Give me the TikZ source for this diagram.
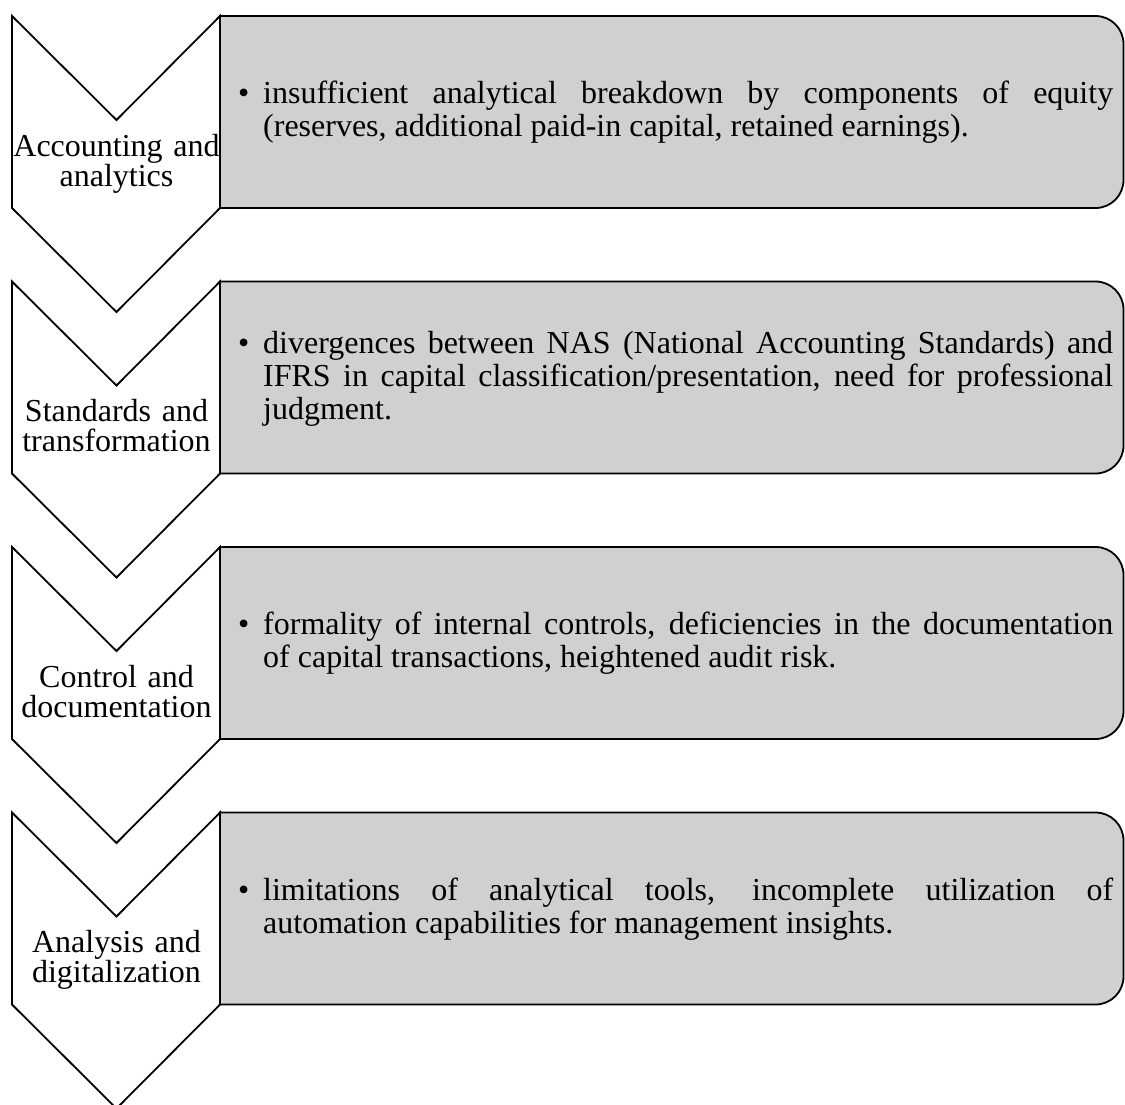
\documentclass[tikz,border=0pt]{standalone}
\usepackage{fontspec}
\setmainfont{Liberation Serif}
\definecolor{boxgray}{RGB}{208,208,208}
\newcommand\drawstage[1]{%
  \draw[chev] (12,#1) -- (116.5,#1+104) -- (220,#1) -- (220,#1+192)
     -- (116.5,#1+296) -- (12,#1+192) -- cycle;
  \draw[infobox] (220,#1) -- (1095.5,#1)
     .. controls (1110.96,#1) and (1123.5,#1+12.54) .. (1123.5,#1+28)
     -- (1123.5,#1+164)
     .. controls (1123.5,#1+179.46) and (1110.96,#1+192) .. (1095.5,#1+192)
     -- (220,#1+192) -- cycle;
}
\newcommand\firststrut{\leavevmode\vrule height 24pt depth 0pt width 0pt\relax}
\newcommand\bodyfont{\fontsize{32}{33}\selectfont\tolerance=10000\relax\hyphenpenalty=10000\relax}
\newcommand\lblfont{\fontsize{32}{30}\selectfont}
\begin{document}
\begin{tikzpicture}[x=1pt,y=-1pt,
  chev/.style={draw=black, fill=white, line width=1.8pt, line join=miter},
  infobox/.style={draw=black, fill=boxgray, line width=1.8pt},
  lbl/.style={text width=210pt, align=center, inner sep=0pt, anchor=north, font=\lblfont},
  body/.style={text width=850pt, align=justify, inner sep=0pt, anchor=north west, font=\bodyfont},
  bullet/.style={inner sep=0pt, anchor=base west, font=\bodyfont}]
\useasboundingbox (0,0) rectangle (1125,1104);
\drawstage{16}
\drawstage{281.5}
\drawstage{547}
\drawstage{812.5}
% labels
\node[lbl] (l1) at (116.5,16+116) {\firststrut Accounting and\\analytics};
\node[lbl] (l2) at (116.5,281.5+116) {\firststrut Standards and\\transformation};
\node[lbl] (l3) at (116.5,547+116) {\firststrut Control and\\documentation};
\node[lbl] (l4) at (116.5,812.5+116) {\firststrut Analysis and\\digitalization};
% bullets
\node[bullet] (b1) at (238,103) {•};
\node[bullet] (b2) at (238,353) {•};
\node[bullet] (b3) at (238,634) {•};
\node[bullet] (b4) at (238,900) {•};
% body texts
\node[body] (t1) at (263,103-24) {\firststrut insufficient analytical breakdown by components of equity\linebreak (reserves, additional paid-in capital, retained earnings).};
\node[body] (t2) at (263,353-24) {\firststrut divergences between NAS (National Accounting Standards) and\linebreak IFRS in capital classification/presentation, need for professional\linebreak judgment.};
\node[body] (t3) at (263,634-24) {\firststrut formality of internal controls, deficiencies in the documentation\linebreak of capital transactions, heightened audit risk.};
\node[body] (t4) at (263,900-24) {\firststrut limitations of analytical tools, incomplete utilization of\linebreak automation capabilities for management insights.};
\end{tikzpicture}
\end{document}
